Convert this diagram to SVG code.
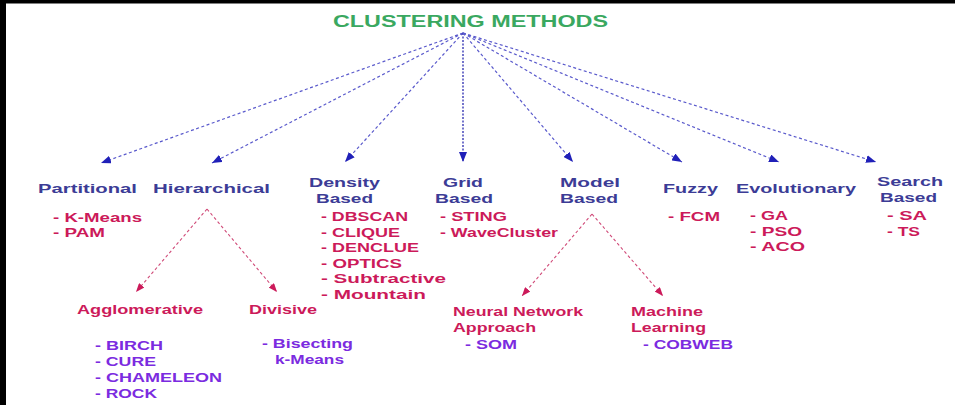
<svg xmlns="http://www.w3.org/2000/svg" width="960" height="405" viewBox="0 0 960 405">
<style>
text{font-family:"Liberation Sans",Arial,sans-serif;font-weight:bold}
.title{fill:#3aa860;font-size:16px}
.cat{fill:#3c3c96;font-size:13.5px}
.sub{fill:#cc1a5a;font-size:12.5px}
.sub2{fill:#cc1a5a;font-size:13px}
.pur{fill:#7b2be0;font-size:12.5px}
.main{stroke:#5a5acc;stroke-width:1.2;stroke-dasharray:3 2.5;fill:none}
.vert{stroke:#2a2ab0;stroke-width:1.3;stroke-dasharray:2 1.5;fill:none}
.red{stroke:#d04a78;stroke-width:1.1;stroke-dasharray:3 2.5;fill:none}
</style>
<defs>
<marker id="ab" viewBox="0 0 10 8" refX="10" refY="4" markerWidth="10" markerHeight="8" markerUnits="userSpaceOnUse" orient="auto"><path d="M0,0 L10,4 L0,8 Z" fill="#2020b8"/></marker>
<marker id="ar" viewBox="0 0 10 8" refX="10" refY="4" markerWidth="9" markerHeight="7" markerUnits="userSpaceOnUse" orient="auto"><path d="M0,0 L10,4 L0,8 Z" fill="#cc1a5a"/></marker>
</defs>
<rect x="0" y="0" width="960" height="405" fill="#ffffff"/>
<rect x="0" y="0" width="6" height="405" fill="#000"/>
<rect x="0" y="0" width="955" height="3.5" fill="#000"/>
<g id="title"><text class="title" x="333" y="27" textLength="275" lengthAdjust="spacingAndGlyphs">CLUSTERING METHODS</text></g>
<g id="connectors">
<line class="main" x1="463" y1="33" x2="101" y2="163" marker-end="url(#ab)"/>
<line class="main" x1="463" y1="33" x2="212" y2="163" marker-end="url(#ab)"/>
<line class="main" x1="463" y1="33" x2="345" y2="162" marker-end="url(#ab)"/>
<line class="vert" x1="463" y1="33" x2="463" y2="162" marker-end="url(#ab)"/>
<line class="main" x1="463" y1="33" x2="573" y2="162" marker-end="url(#ab)"/>
<line class="main" x1="463" y1="33" x2="682" y2="162" marker-end="url(#ab)"/>
<line class="main" x1="463" y1="33" x2="779" y2="162" marker-end="url(#ab)"/>
<line class="main" x1="463" y1="33" x2="876" y2="162" marker-end="url(#ab)"/>
<line class="red" x1="207" y1="209" x2="136" y2="292" marker-end="url(#ar)"/>
<line class="red" x1="207" y1="209" x2="277" y2="292" marker-end="url(#ar)"/>
<line class="red" x1="592" y1="214" x2="522" y2="296" marker-end="url(#ar)"/>
<line class="red" x1="592" y1="214" x2="663" y2="296" marker-end="url(#ar)"/>
</g>
<g id="partitional">
<text class="cat" x="38" y="193" textLength="99" lengthAdjust="spacingAndGlyphs">Partitional</text>
<text class="sub" x="53" y="222" textLength="89" lengthAdjust="spacingAndGlyphs">- K-Means</text>
<text class="sub" x="53" y="237" textLength="52" lengthAdjust="spacingAndGlyphs">- PAM</text>
</g>
<g id="hierarchical">
<text class="cat" x="153" y="193" textLength="117" lengthAdjust="spacingAndGlyphs">Hierarchical</text>
</g>
<g id="agglomerative">
<text class="sub2" x="77" y="314" textLength="126" lengthAdjust="spacingAndGlyphs">Agglomerative</text>
<text class="pur" x="95" y="350" textLength="68" lengthAdjust="spacingAndGlyphs">- BIRCH</text>
<text class="pur" x="95" y="366" textLength="61" lengthAdjust="spacingAndGlyphs">- CURE</text>
<text class="pur" x="95" y="382" textLength="127" lengthAdjust="spacingAndGlyphs">- CHAMELEON</text>
<text class="pur" x="95" y="397.5" textLength="62" lengthAdjust="spacingAndGlyphs">- ROCK</text>
</g>
<g id="divisive">
<text class="sub2" x="249" y="314" textLength="68" lengthAdjust="spacingAndGlyphs">Divisive</text>
<text class="pur" x="262" y="348" textLength="91" lengthAdjust="spacingAndGlyphs">- Bisecting</text>
<text class="pur" x="275" y="364" textLength="69" lengthAdjust="spacingAndGlyphs">k-Means</text>
</g>
<g id="density">
<text class="cat" x="309" y="186.5" textLength="71" lengthAdjust="spacingAndGlyphs">Density</text>
<text class="cat" x="316" y="202.5" textLength="57" lengthAdjust="spacingAndGlyphs">Based</text>
<text class="sub" x="321" y="221" textLength="87" lengthAdjust="spacingAndGlyphs">- DBSCAN</text>
<text class="sub" x="321" y="236.5" textLength="79" lengthAdjust="spacingAndGlyphs">- CLIQUE</text>
<text class="sub" x="321" y="252" textLength="98" lengthAdjust="spacingAndGlyphs">- DENCLUE</text>
<text class="sub" x="321" y="267.5" textLength="81" lengthAdjust="spacingAndGlyphs">- OPTICS</text>
<text class="sub" x="321" y="283" textLength="125" lengthAdjust="spacingAndGlyphs">- Subtractive</text>
<text class="sub" x="321" y="298.5" textLength="105" lengthAdjust="spacingAndGlyphs">- Mountain</text>
</g>
<g id="grid">
<text class="cat" x="443" y="186.5" textLength="40" lengthAdjust="spacingAndGlyphs">Grid</text>
<text class="cat" x="435" y="202.5" textLength="58" lengthAdjust="spacingAndGlyphs">Based</text>
<text class="sub" x="440" y="221" textLength="67" lengthAdjust="spacingAndGlyphs">- STING</text>
<text class="sub" x="440" y="236.5" textLength="118" lengthAdjust="spacingAndGlyphs">- WaveCluster</text>
</g>
<g id="model">
<text class="cat" x="560" y="186.5" textLength="60" lengthAdjust="spacingAndGlyphs">Model</text>
<text class="cat" x="560" y="202.5" textLength="58" lengthAdjust="spacingAndGlyphs">Based</text>
</g>
<g id="neural">
<text class="sub2" x="453" y="316" textLength="130" lengthAdjust="spacingAndGlyphs">Neural Network</text>
<text class="sub2" x="453" y="331.5" textLength="83" lengthAdjust="spacingAndGlyphs">Approach</text>
<text class="pur" x="465" y="349" textLength="52" lengthAdjust="spacingAndGlyphs">- SOM</text>
</g>
<g id="machine">
<text class="sub2" x="631" y="316" textLength="72" lengthAdjust="spacingAndGlyphs">Machine</text>
<text class="sub2" x="631" y="331.5" textLength="75" lengthAdjust="spacingAndGlyphs">Learning</text>
<text class="pur" x="643" y="349" textLength="90" lengthAdjust="spacingAndGlyphs">- COBWEB</text>
</g>
<g id="fuzzy">
<text class="cat" x="663" y="193" textLength="55" lengthAdjust="spacingAndGlyphs">Fuzzy</text>
<text class="sub" x="668" y="221" textLength="52" lengthAdjust="spacingAndGlyphs">- FCM</text>
</g>
<g id="evolutionary">
<text class="cat" x="736" y="193" textLength="120" lengthAdjust="spacingAndGlyphs">Evolutionary</text>
<text class="sub" x="750" y="220" textLength="38" lengthAdjust="spacingAndGlyphs">- GA</text>
<text class="sub" x="750" y="235.5" textLength="52" lengthAdjust="spacingAndGlyphs">- PSO</text>
<text class="sub" x="750" y="251" textLength="55" lengthAdjust="spacingAndGlyphs">- ACO</text>
</g>
<g id="search">
<text class="cat" x="877" y="185.5" textLength="66" lengthAdjust="spacingAndGlyphs">Search</text>
<text class="cat" x="880" y="201.5" textLength="57" lengthAdjust="spacingAndGlyphs">Based</text>
<text class="sub" x="887" y="220" textLength="40" lengthAdjust="spacingAndGlyphs">- SA</text>
<text class="sub" x="887" y="235.5" textLength="33" lengthAdjust="spacingAndGlyphs">- TS</text>
</g>
</svg>
